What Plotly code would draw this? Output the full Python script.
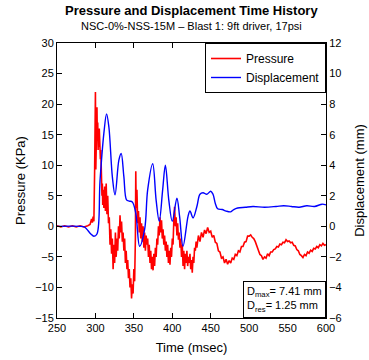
import plotly.graph_objects as go

# Pressure (kPa) vs time (msec)
p_time = [250, 255, 260, 265, 270, 275, 280, 285, 290, 293, 295, 296, 297, 298, 299, 299.5, 300, 300.5,
          301, 301.5, 302, 302.5, 303, 303.5, 304, 304.5, 305, 305.5, 306, 306.5, 307, 307.5, 308, 308.5,
          309, 309.5, 310, 311, 312, 313, 314, 315, 316, 317, 318, 319, 320, 321, 322, 323, 324, 325,
          326, 327, 328, 329, 330, 331, 332, 333, 334, 335, 336, 337, 338, 339, 340, 341, 342, 343, 344,
          345, 346, 347, 348, 349, 350, 351, 352, 352.5, 353, 354, 355, 356, 357, 358, 359, 360, 361, 362,
          363, 364, 365, 366, 367, 368, 369, 370, 371, 372, 373, 374, 375, 376, 377, 378, 379, 380, 381,
          382, 383, 384, 385, 386, 387, 388, 389, 390, 391, 392, 393, 394, 395, 396, 397, 398, 399, 400,
          401, 402, 403, 404, 405, 406, 407, 408, 409, 410, 411, 412, 413, 414, 415, 416, 417, 418, 419,
          420, 421, 422, 423, 424, 425, 426, 427, 428, 429, 430, 431, 432, 434, 436, 438, 440, 442, 444,
          446, 448, 450, 452, 454, 456, 458, 460, 462, 464, 466, 468, 470, 472, 474, 476, 478, 480, 482,
          484, 486, 488, 490, 492, 494, 496, 498, 500, 502, 504, 506, 508, 510, 512, 514, 516, 518, 520,
          522, 524, 526, 528, 530, 532, 534, 536, 538, 540, 542, 544, 546, 548, 550, 552, 554, 556, 558,
          560, 562, 564, 566, 568, 570, 572, 574, 576, 578, 580, 582, 584, 586, 588, 590, 592, 594, 596,
          598, 600]
pressure = [0.1, -0.1, 0.1, -0.1, 0.1, -0.1, 0.1, -0.1, 0.1, 0.3, 1.2, 0.6, 1.6, 0.8, 9.5, 14, 22, 9.3,
            19, 12, 19.5, 14, 17, 12.5, 16, 13, 16, 12, 14, 11, 12.5, 8, 11, 5,
            7, 3.5, 6, 3, 6.5, 2.5, 7, 2, 5, 0.5, 1.5, -3, -0.5, -4.5, -2, -7, -3, -6,
            -1, -5, -2, -4, 0, -2, 1.8, -1, 0.8, -2.5, -1, -4, -2, -6, -4, -7, -5.5, -8.5, -7,
            -10, -8.5, -11.8, -9.5, -11, -7, -9, -2, 9, 3, 6, 0.5, 2.5, -1, 1.5, -2, 0.5, -2.5, 0,
            -3.5, -1, -4, -1.5, -3, -2, -5, -3, -6, -4, -7, -5, -7.2, -4.5, -6.5, -3.5, -5, -2, -3,
            0, -1.5, 1.5, -1, 1, -2, -0.5, -3, -1.5, -4, -2.5, -5, -3, -6, -4, -6.3, -3.5, -5, -2,
            -3, 1, 3.2, 0, 1.5, -1.5, 0.5, -2.2, -1, -3.5, -2, -5, -3, -6.5, -4, -7, -4.5, -6, -4,
            -6.5, -5, -6, -4.5, -7, -5.5, -7.6, -5, -6, -3.5, -4, -2.5, -3.5, -1.5, -2.5, -1, -1.8, -0.6, -1.2,
            -0.2, -1, -0.8, -1.8, -1.5, -2.6, -2.8, -4, -4.2, -5.2, -5, -6, -5.4, -6.2, -5.6, -6, -5.2, -5.4, -4.6,
            -4.8, -4, -4.2, -3.3, -3.3, -2.6, -2.5, -1.6, -1.6, -1.4, -1.8, -2.0, -2.5, -3.2, -3.8, -4.6, -4.8, -5.4, -5.0,
            -5.2, -4.5, -4.8, -4.2, -4.2, -3.8, -3.7, -3.3, -3.4, -2.9, -3.0, -2.6, -2.7, -2.2, -2.5, -2.4, -2.7, -2.6, -3.1,
            -3.2, -3.8, -4.0, -4.6, -4.8, -5.1, -4.6, -4.8, -4.2, -4.4, -3.9, -4.1, -3.6, -3.7, -3.3, -3.5, -3.0, -3.2, -2.8,
            -3.1, -3.0]

# Displacement (mm) vs time (msec)
d_time = [250, 280, 286, 289, 294, 298, 302, 306, 311, 314.5, 317.5, 322, 325.5, 330.5, 333.5, 337,
          340.5, 344, 348, 352.5, 357.5, 364, 368, 374.5, 379, 383, 387.5, 391, 395.5, 400, 406,
          409.5, 414, 420.5, 423, 427, 432, 436, 440, 445, 450, 453, 456, 459, 465, 470, 476, 480,
          485, 495, 505, 520, 535, 545, 555, 565, 575, 585, 595, 600]
displacement = [0, 0, -0.05, -0.2, -0.5, -0.65, -0.5, 3.0, 6.1, 7.36, 6.5, 3.25, 2.06, 4.33, 4.77, 3.25,
                1.73, 1.65, 1.6, 0.87, -1.3, -0.2, 2.4, 4.1, 1.7, 0.33, 2.4, 4.0, 1.7, 0.33, 1.84,
                0.65, -1.3, 0.65, 1.0, 0.55, 1.3, 2.1, 2.2, 2.1, 2.3, 2.1, 1.5, 1.15, 1.1, 1.0, 0.95, 1.1,
                1.2, 1.25, 1.3, 1.25, 1.3, 1.35, 1.3, 1.25, 1.35, 1.3, 1.45, 1.4]

font_family = "Liberation Sans, Arial, sans-serif"

fig = go.Figure()
fig.add_trace(go.Scatter(x=p_time, y=pressure, mode="lines", name="Pressure",
                         line=dict(color="#ff0000", width=1.6)))
fig.add_trace(go.Scatter(x=d_time, y=displacement, mode="lines", name="Displacement",
                         line=dict(color="#0000ff", width=1.4, shape="spline", smoothing=1.0),
                         yaxis="y2"))

axis_common = dict(showgrid=False, zeroline=False, showline=True, linecolor="black", linewidth=1,
                   ticks="inside", ticklen=5, tickcolor="black", automargin=False,
                   tickfont=dict(size=11, color="black", family=font_family))

fig.update_layout(
    width=369, height=360,
    margin=dict(l=57, r=43, t=43, b=42),
    paper_bgcolor="white", plot_bgcolor="white",
    font=dict(family=font_family, color="black"),
    showlegend=True,
    legend=dict(x=1, y=1, xanchor="right", yanchor="top", bgcolor="white",
                bordercolor="black", borderwidth=1, font=dict(size=12),
                tracegroupgap=0, itemwidth=30),
    xaxis=dict(range=[250, 600], dtick=50, mirror="ticks",
               title=dict(text="Time (msec)", font=dict(size=13), standoff=9), **axis_common),
    yaxis=dict(range=[-15, 30], dtick=5,
               title=dict(text="Pressure (KPa)", font=dict(size=13), standoff=6), **axis_common),
    yaxis2=dict(range=[-6, 12], dtick=2, overlaying="y", side="right",
                title=dict(text="Displacement (mm)", font=dict(size=13), standoff=14), **axis_common),
    annotations=[
        dict(text="<b>Pressure and Displacement Time History</b>", xref="paper", yref="paper",
             x=0.5, y=1, yshift=33, xanchor="center", yanchor="middle", showarrow=False,
             font=dict(size=13)),
        dict(text="NSC-0%-NSS-15M \u2013 Blast 1: 9ft driver, 17psi", xref="paper", yref="paper",
             x=0.5, y=1, yshift=17, xanchor="center", yanchor="middle", showarrow=False,
             font=dict(size=11)),
        dict(text="D<sub>max</sub>= 7.41 mm<br>D<sub>res</sub>= 1.25 mm", xref="paper", yref="paper",
             x=1, y=0, xanchor="right", yanchor="bottom", align="left", showarrow=False,
             bgcolor="white", bordercolor="black", borderwidth=1, borderpad=3,
             font=dict(size=11)),
    ],
)

fig.write_html("out.html")
